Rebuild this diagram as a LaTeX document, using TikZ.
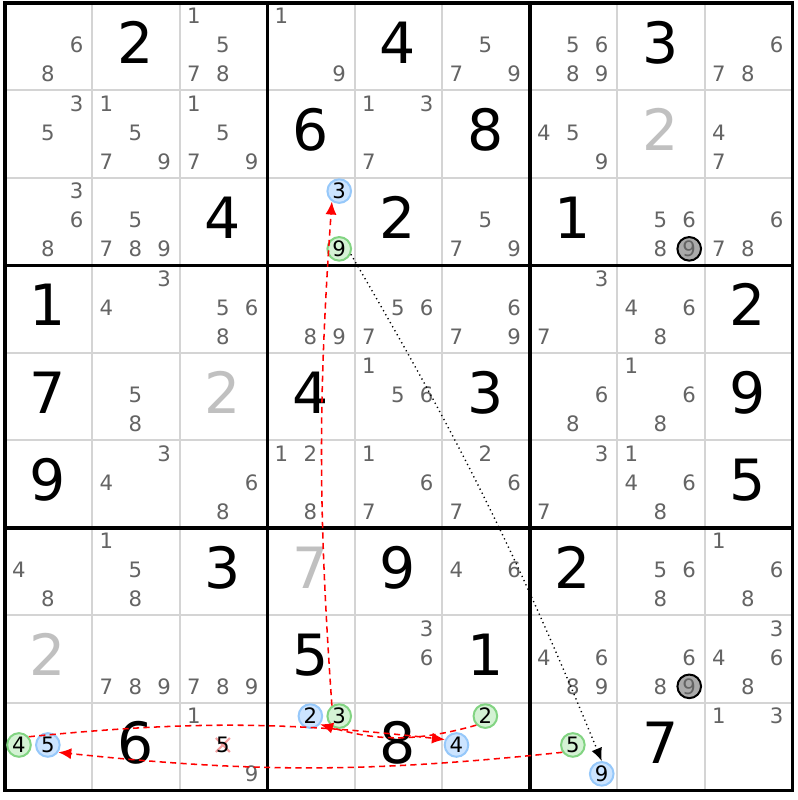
\documentclass[tikz,border=0pt]{standalone}
\usepackage{fontspec}
\setmainfont{DejaVu Sans}
\usepackage{xcolor}
\usepackage{tikz}
\usetikzlibrary{arrows.meta}
\definecolor{candgray}{RGB}{100,100,100}
\definecolor{placedgray}{RGB}{192,192,192}
\definecolor{thingray}{RGB}{212,212,212}
\definecolor{onfill}{RGB}{204,228,255}
\definecolor{onborder}{RGB}{150,200,250}
\definecolor{offfill}{RGB}{212,242,212}
\definecolor{offborder}{RGB}{130,212,130}
\definecolor{elimfill}{RGB}{170,170,170}
\definecolor{strikepink}{RGB}{245,160,160}
\begin{document}
\begin{tikzpicture}[>={Latex[length=4.2pt,width=3.6pt]}]
\tikzstyle{given}=[font=\fontsize{18.5}{20}\selectfont,inner sep=0pt]
\tikzstyle{placed}=[given,text=placedgray]
\tikzstyle{cand}=[font=\fontsize{6.9}{7}\selectfont,text=candgray,inner sep=0pt]
\tikzstyle{hl}=[cand,text=black,circle,minimum size=0.27cm,line width=0.65pt]
\tikzstyle{hlblue}=[hl,draw=onborder,fill=onfill]
\tikzstyle{hlgreen}=[hl,draw=offborder,fill=offfill]
\tikzstyle{elim}=[hl,draw=black,fill=elimfill,text=candgray]
\tikzstyle{thinline}=[thingray,line width=0.65pt]
\tikzstyle{boxline}=[black,line width=1.1pt]
\tikzstyle{link}=[->,red,line width=0.5pt,dash pattern=on 2pt off 1.4pt]
\tikzstyle{weak}=[->,black,line width=0.45pt,dash pattern=on 0.4pt off 1.1pt]
\useasboundingbox (-0.057,0.034) rectangle (9.055,-9.109);
\fill[white] (-0.057,0.034) rectangle (9.055,-9.109);

\foreach \i in {1,2,4,5,7,8} {
  \draw[thinline] (\i,0) -- (\i,-9);
  \draw[thinline] (0,-\i) -- (9,-\i);
}
\foreach \i in {3,6} {
  \draw[boxline] (\i,0) -- (\i,-9);
  \draw[boxline] (0,-\i) -- (9,-\i);
}
\draw[boxline] (0,0) rectangle (9,-9);

\foreach \r/\c/\d in {1/2/2,1/5/4,1/8/3,2/4/6,2/6/8,3/3/4,3/5/2,3/7/1,
  4/1/1,4/9/2,5/1/7,5/4/4,5/6/3,5/9/9,6/1/9,6/9/5,
  7/3/3,7/5/9,7/7/2,8/4/5,8/6/1,9/2/6,9/5/8,9/8/7}
  \node[given] (g\r\c) at (\c-0.51,-\r+0.55) {\d};
\foreach \r/\c/\d in {2/8/2,5/3/2,7/4/7,8/1/2}
  \node[placed] (g\r\c) at (\c-0.51,-\r+0.55) {\d};

\foreach \r/\c/\ds in {1/1/{6,8},1/3/{1,5,7,8},1/4/{1,9},1/6/{5,7,9},1/7/{5,6,8,9},1/9/{6,7,8},
  2/1/{3,5},2/2/{1,5,7,9},2/3/{1,5,7,9},2/5/{1,3,7},2/7/{4,5,9},2/9/{4,7},
  3/1/{3,6,8},3/2/{5,7,8,9},3/6/{5,7,9},3/8/{5,6,8},3/9/{6,7,8},
  4/2/{3,4},4/3/{5,6,8},4/4/{8,9},4/5/{5,6,7},4/6/{6,7,9},4/7/{3,7},4/8/{4,6,8},
  5/2/{5,8},5/5/{1,5,6},5/7/{6,8},5/8/{1,6,8},
  6/2/{3,4},6/3/{6,8},6/4/{1,2,8},6/5/{1,6,7},6/6/{2,6,7},6/7/{3,7},6/8/{1,4,6,8},
  7/1/{4,8},7/2/{1,5,8},7/6/{4,6},7/8/{5,6,8},7/9/{1,6,8},
  8/2/{7,8,9},8/3/{7,8,9},8/5/{3,6},8/7/{4,6,8,9},8/8/{6,8},8/9/{3,4,6,8},
  9/3/{1,9},9/9/{1,3}}
  \foreach \d in \ds
    \node[cand] (n\r\c\d) at ({\c-0.84+0.33*mod(\d-1,3)},{-\r+0.85-0.33*floor((\d-1)/3)}) {\d};

\coordinate (x935) at (2.49,-8.48);
\draw[strikepink,line width=0.7pt] ([shift={(-0.08,0.08)}]x935) -- ([shift={(0.08,-0.08)}]x935)
  ([shift={(-0.08,-0.08)}]x935) -- ([shift={(0.08,0.08)}]x935);
\node[cand,text=black] (n935) at (x935) {5};

\foreach \r/\c/\d/\s in {3/4/3/hlblue,3/4/9/hlgreen,9/1/4/hlgreen,9/1/5/hlblue,
  9/4/2/hlblue,9/4/3/hlgreen,9/6/2/hlgreen,9/6/4/hlblue,9/7/5/hlgreen,9/7/9/hlblue,
  3/8/9/elim,8/8/9/elim}
  \node[\s] (n\r\c\d) at ({\c-0.84+0.33*mod(\d-1,3)},{-\r+0.85-0.33*floor((\d-1)/3)}) {\d};

\draw[link] (n943.125) to[bend left=4] (n343.235);
\draw[link] (n962.225) to[bend left=16] (n942.-40);
\draw[link] (n914.40) to[bend left=6] (n964.155);
\draw[link] (n975.215) to[bend left=6] (n915.-35);
\draw[weak] (n349.-25) to[bend left=4] (n979.north);
\end{tikzpicture}
\end{document}
